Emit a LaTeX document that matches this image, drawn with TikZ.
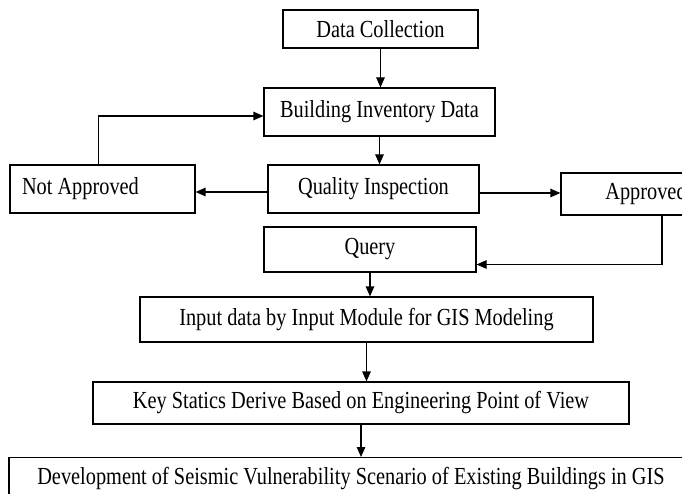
\documentclass[tikz,border=0pt]{standalone}
\usepackage{fontspec}
\setmainfont{Liberation Serif}[FakeStretch=0.83]
\usetikzlibrary{arrows.meta}

\begin{document}
\begin{tikzpicture}[x=1pt, y=-1pt, font=\fontsize{24.5}{28}\selectfont,
   box/.style={draw, line width=1.2pt, inner sep=0pt},
   flow/.style={-{Triangle[length=10pt,width=8.5pt]}, line width=1.2pt}]
   \useasboundingbox (0,0) rectangle (682,494);
   \clip (0,0) rectangle (682,494);
   \node[box, minimum width=195, minimum height=38] (collect) at (380.5,29) {Data Collection};
   \node[box, minimum width=231, minimum height=48] (inventory) at (379.5,112) {Building Inventory Data};
   \node[box, minimum width=211, minimum height=48] (quality) at (373.5,189) {Quality Inspection};
   \node[box, minimum height=48, text width=161, inner xsep=12, align=flush left] (notok) at (102.5,189) {Not Approved};
   \node[box, minimum width=170, minimum height=42] (ok) at (646,194) {Approved};
   \node[box, minimum width=212, minimum height=45] (query) at (370,249.5) {Query};
   \node[box, minimum width=453, minimum height=45] (input) at (366.5,319.5) {Input data by Input Module for GIS Modeling};
   \node[box, minimum width=536, minimum height=42] (statics) at (361,403) {Key Statics Derive Based on Engineering Point of View};
   \node[box, minimum width=684, minimum height=42, anchor=north] (develop) at (351,457)
     {Development of Seismic Vulnerability Scenario of Existing Buildings in GIS};
   \coordinate (okdrop) at (662,215);
   % main line down the page
   \draw[flow] (collect.south) -- (collect.south |- inventory.north);
   \draw[flow] (inventory.south) -- (inventory.south |- quality.north);
   \draw[flow] (query.south) -- (query.south |- input.north);
   \draw[flow] (input.south) -- (input.south |- statics.north);
   \draw[flow] (statics.south) -- (statics.south |- develop.north);
   % inspection outcomes
   \draw[flow] ([yshift=-3pt]quality.west) -- ([yshift=-3pt]quality.west -| notok.east);
   \draw[flow] ([yshift=-4pt]quality.east) -- ([yshift=-4pt]quality.east -| ok.west);
   \draw[flow] ([xshift=-4pt]notok.north) |- ([yshift=-4pt]inventory.west);
   \draw[flow] (okdrop) |- ([yshift=-15pt]query.east);
\end{tikzpicture}
\end{document}
